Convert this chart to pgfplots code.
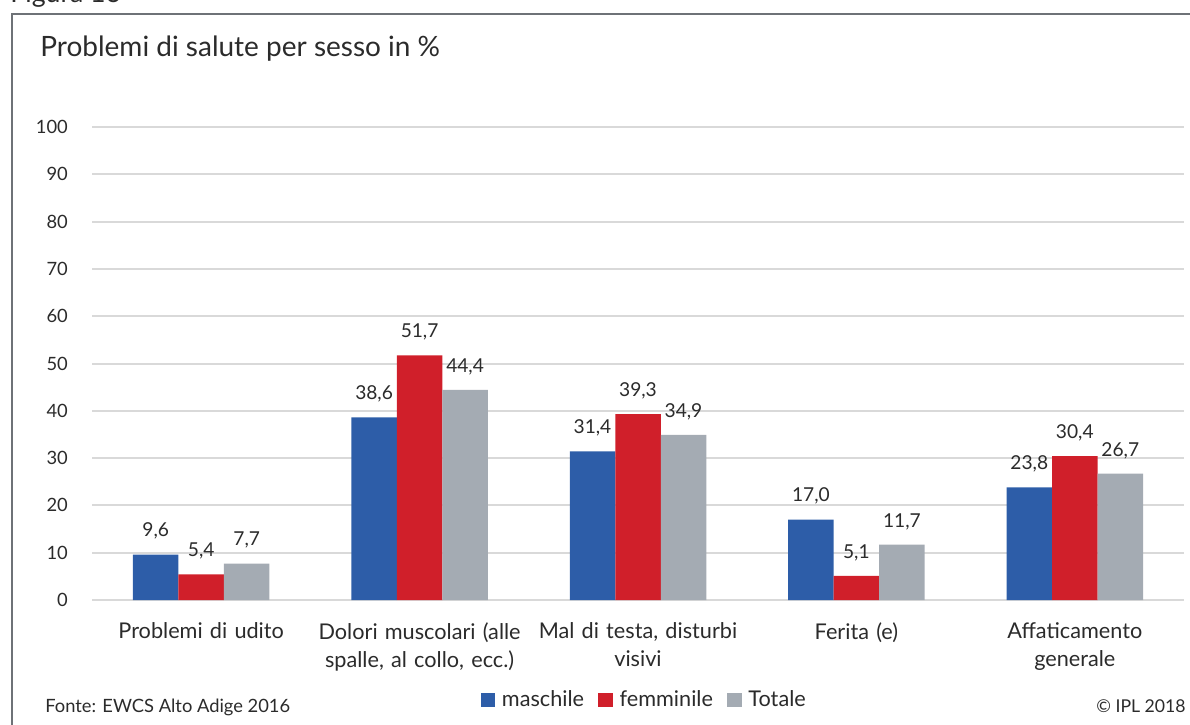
\documentclass[border=0pt]{standalone}
\usepackage{fontspec}
\setmainfont{Lato}
\usepackage{pgfplots}
\pgfplotsset{compat=1.18}
\definecolor{cblue}{HTML}{2D5DA8}
\definecolor{cred}{HTML}{D01F2A}
\definecolor{cgray}{HTML}{A4ABB3}
\definecolor{gridc}{HTML}{D9D9D9}
\definecolor{txt}{HTML}{2B2B2B}
\definecolor{framec}{HTML}{6E7277}
\begin{document}
\begin{tikzpicture}[font=\fontsize{11.5}{14}\selectfont, text=txt]
\useasboundingbox (0,0) rectangle (714pt,-435pt);
\clip (0,0) rectangle (714pt,-435pt);
\begin{scope}[x=0.6pt,y=-0.6pt]
\draw[framec, line width=1.2pt] (12,730) -- (12,14) -- (1195,14);
\node[anchor=base west, inner sep=0pt, font=\fontsize{16}{18}\selectfont] at (10,3) {Figura 16};
\node[anchor=base west, inner sep=0pt, font=\fontsize{16.8}{19}\selectfont] at (40,57) {Problemi di salute per sesso in \%};
\node[anchor=base west, inner sep=0pt, font=\fontsize{11}{13}\selectfont] at (45,712) {Fonte: EWCS Alto Adige 2016};
\node[anchor=base east, inner sep=0pt, font=\fontsize{10.6}{13}\selectfont] at (1186,712) {© IPL 2018};
\end{scope}
\begin{axis}[
  at={(55.2pt,-360pt)}, anchor=south west,
  scale only axis, width=655.2pt, height=283.8pt,
  ymin=0, ymax=100, ytick={0,10,...,100},
  xmin=-0.5, xmax=4.5, xtick=data,
  xticklabels={Problemi di udito, {Dolori muscolari (alle\\spalle, al collo, ecc.)}, {Mal di testa, disturbi\\visivi}, Ferita (e), {Affaticamento\\generale}},
  xticklabel style={align=center, text width=150pt, yshift=-10pt, font=\fontsize{13}{16.8}\selectfont},
  yticklabel style={xshift=-11pt, font=\fontsize{11}{13}\selectfont},
  /pgf/number format/assume math mode=true,
  ybar=0pt, bar width=27.3pt,
  axis line style={draw=none}, major tick length=0pt,
  ymajorgrids, grid style={gridc, line width=1.2pt},
  nodes near coords={\pgfmathprintnumber[fixed,fixed zerofill,precision=1,use comma,assume math mode=true]{\pgfplotspointmeta}},
  every node near coord/.append style={yshift=5.5pt, text=txt, font=\fontsize{11.5}{14}\selectfont},
  legend style={at={(0.351,-0.2114)}, anchor=west, draw=none, fill=none,
    legend columns=3,
    /tikz/every odd column/.append style={column sep=2.5pt},
    /tikz/every even column/.append style={column sep=7pt},
    nodes={inner sep=1.5pt}, font=\fontsize{13}{15}\selectfont},
  legend image code/.code={\fill[#1] (0pt,-4.4pt) rectangle (8.8pt,4.4pt);},
]
\addplot[fill=cblue, draw=none] coordinates {(0,9.6) (1,38.6) (2,31.4) (3,17.0) (4,23.8)};
\addplot[fill=cred, draw=none] coordinates {(0,5.4) (1,51.7) (2,39.3) (3,5.1) (4,30.4)};
\addplot[fill=cgray, draw=none] coordinates {(0,7.7) (1,44.4) (2,34.9) (3,11.7) (4,26.7)};
\legend{maschile, femminile, Totale}
\end{axis}
\end{tikzpicture}
\end{document}
